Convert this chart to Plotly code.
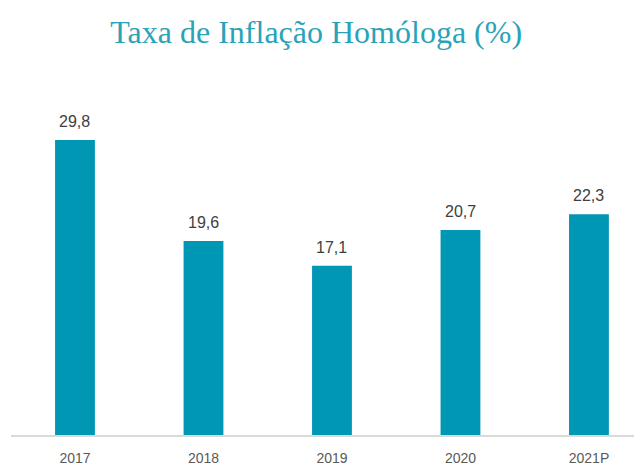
import plotly.graph_objects as go

years = ["2017", "2018", "2019", "2020", "2021P"]
inflation = [29.8, 19.6, 17.1, 20.7, 22.3]
labels = [f"{v:.1f}".replace(".", ",") for v in inflation]

fig = go.Figure(go.Bar(
    x=years, y=inflation,
    marker=dict(color="#0097b5", line=dict(width=0)),
    width=0.31,
))

for i, (v, lab) in enumerate(zip(inflation, labels)):
    fig.add_annotation(x=i, y=v, text=lab, showarrow=False,
                       xanchor="center", yanchor="bottom", yshift=8,
                       font=dict(family="Liberation Sans, Arial", size=16, color="#404040"))

fig.update_layout(
    width=642, height=464,
    margin=dict(l=3, r=0, t=62, b=37),
    paper_bgcolor="white", plot_bgcolor="white",
    title=dict(text="Taxa de Inflação Homóloga (%)", x=0.48, xanchor="center",
               y=0.948, yanchor="middle",
               font=dict(family="Liberation Serif, serif", size=32, color="#2aa3b8")),
    xaxis=dict(type="category", range=[-0.498, 4.475], showline=True,
               linecolor="#d9d9d9", linewidth=1.5,
               ticks="", ticklabelstandoff=9,
               tickfont=dict(family="Liberation Sans, Arial", size=14, color="#595959"),
               showgrid=False),
    yaxis=dict(range=[0, 36.87], visible=False, showgrid=False),
    showlegend=False,
)

fig.write_html("out.html")
